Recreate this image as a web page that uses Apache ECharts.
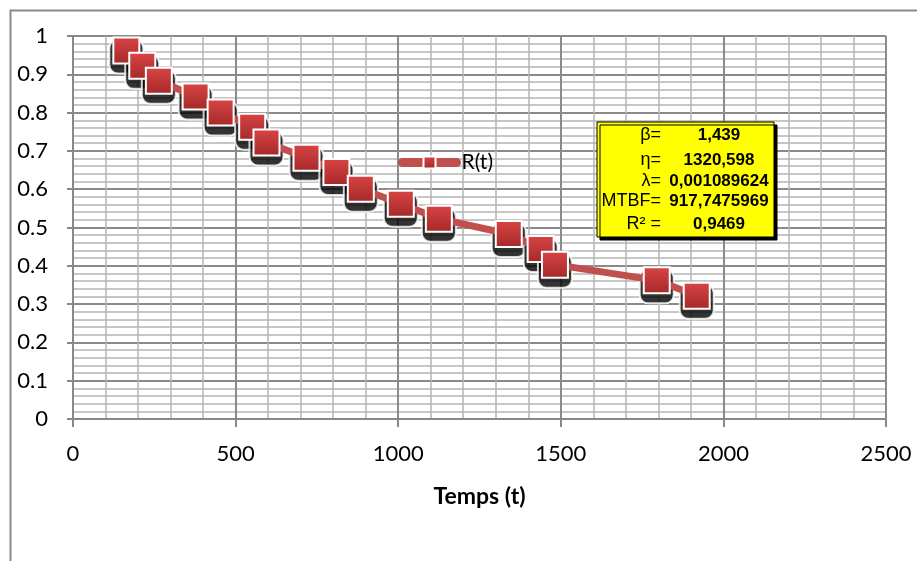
<!DOCTYPE html>
<html>
<head>
<meta charset="utf-8">
<script src="https://cdn.jsdelivr.net/npm/echarts@6/dist/echarts.min.js"></script>
<style>
  html, body { margin: 0; padding: 0; background: #fff; }
  #chart { width: 917px; height: 561px; }
</style>
</head>
<body>
<div id="chart"></div>
<script>
// temps (t) and reliability R(t)
const temps = [164, 213, 264, 377, 454, 551, 595, 718, 810, 885, 1008, 1125, 1340, 1438, 1482, 1795, 1918]
const fiabilite = [0.962, 0.922, 0.883, 0.842, 0.800, 0.763, 0.722, 0.682, 0.645, 0.601, 0.562, 0.523, 0.483, 0.444, 0.403, 0.362, 0.322]

// weibull parameters shown in the yellow box
const paramLabels = ['β=', 'η=', 'λ=', 'MTBF=', 'R² =']
const paramValues = ['1,439', '1320,598', '0,001089624', '917,7475969', '0,9469']
const paramRowsY = [135, 160, 181, 201, 224]

const points = temps.map((t, i) => [t, fiabilite[i]])

const chart = echarts.init(document.getElementById('chart'))

const boxItems = [
  {
    type: 'rect',
    z: 100,
    shape: { x: 597, y: 122, width: 177, height: 115 },
    style: {
      fill: '#ffff00',
      stroke: '#000',
      lineWidth: 1,
      shadowColor: '#000',
      shadowOffsetX: 3,
      shadowOffsetY: 3,
      shadowBlur: 0
    }
  }
]
paramLabels.forEach((lab, i) => {
  boxItems.push({
    type: 'text',
    z: 101,
    x: 661,
    y: paramRowsY[i],
    style: {
      text: lab,
      fill: '#000',
      font: '18px "Liberation Sans", Arial, sans-serif',
      align: 'right',
      verticalAlign: 'middle'
    }
  })
  boxItems.push({
    type: 'text',
    z: 101,
    x: 719,
    y: paramRowsY[i],
    style: {
      text: paramValues[i],
      fill: '#000',
      font: 'bold 17px "Liberation Sans", Arial, sans-serif',
      align: 'center',
      verticalAlign: 'middle'
    }
  })
})

chart.setOption({
  animation: false,
  backgroundColor: '#fff',
  textStyle: { fontFamily: 'Lato' },
  grid: {
    left: 73,
    top: 36,
    width: 813,
    height: 383
  },
  legend: {
    data: ['R(t)'],
    left: 393,
    top: 147,
    itemWidth: 54,
    itemHeight: 15,
    itemGap: 5,
    lineStyle: { width: 9, cap: 'round', color: '#c0504d' },
    textStyle: { fontSize: 21, color: '#000', fontFamily: 'Lato' }
  },
  xAxis: {
    type: 'value',
    min: 0,
    max: 2500,
    interval: 500,
    name: 'Temps (t)',
    nameLocation: 'middle',
    nameGap: 66,
    nameTextStyle: { fontSize: 23, fontWeight: 'bold', color: '#000', fontFamily: 'Lato' },
    axisLine: { show: true, lineStyle: { color: '#888', width: 2 } },
    axisTick: { show: true, length: 8, lineStyle: { color: '#888', width: 2 } },
    axisLabel: { fontSize: 22, color: '#000', margin: 24, formatter: v => String(v) },
    splitLine: { show: true, lineStyle: { color: '#8a8a8a', width: 2 } },
    minorTick: { show: false, splitNumber: 5 },
    minorSplitLine: { show: true, lineStyle: { color: '#b4b4b4', width: 1.5 } }
  },
  yAxis: {
    type: 'value',
    min: 0,
    max: 1,
    interval: 0.1,
    axisLine: { show: true, lineStyle: { color: '#888', width: 2 } },
    axisTick: { show: true, length: 6, lineStyle: { color: '#888', width: 2 } },
    axisLabel: { fontSize: 22, color: '#000', margin: 25 },
    splitLine: { show: true, lineStyle: { color: '#8a8a8a', width: 2 } },
    minorTick: { show: false, splitNumber: 5 },
    minorSplitLine: { show: true, lineStyle: { color: '#b4b4b4', width: 1.5 } }
  },
  series: [
    {
      name: 'ombre',
      type: 'scatter',
      data: points,
      symbol: 'roundRect',
      symbolSize: 34,
      symbolOffset: [0, 6],
      z: 1,
      itemStyle: { color: '#000', borderColor: '#fff', borderWidth: 2 },
      silent: true
    },
    {
      name: 'R(t)',
      type: 'line',
      data: points,
      symbol: 'rect',
      symbolSize: 26,
      z: 2,
      lineStyle: { color: '#c0504d', width: 7 },
      itemStyle: {
        color: {
          type: 'linear', x: 0, y: 0, x2: 0, y2: 1,
          colorStops: [
            { offset: 0, color: '#d94545' },
            { offset: 1, color: '#a52828' }
          ]
        },
        borderColor: '#fff',
        borderWidth: 2
      }
    }
  ],
  graphic: [
    {
      type: 'rect',
      left: 8,
      top: 8,
      shape: { width: 940, height: 600 },
      style: { fill: 'none', stroke: '#888', lineWidth: 2 },
      z: -1,
      silent: true
    },
    {
      type: 'group',
      z: 100,
      children: boxItems
    }
  ]
})
</script>
</body>
</html>
